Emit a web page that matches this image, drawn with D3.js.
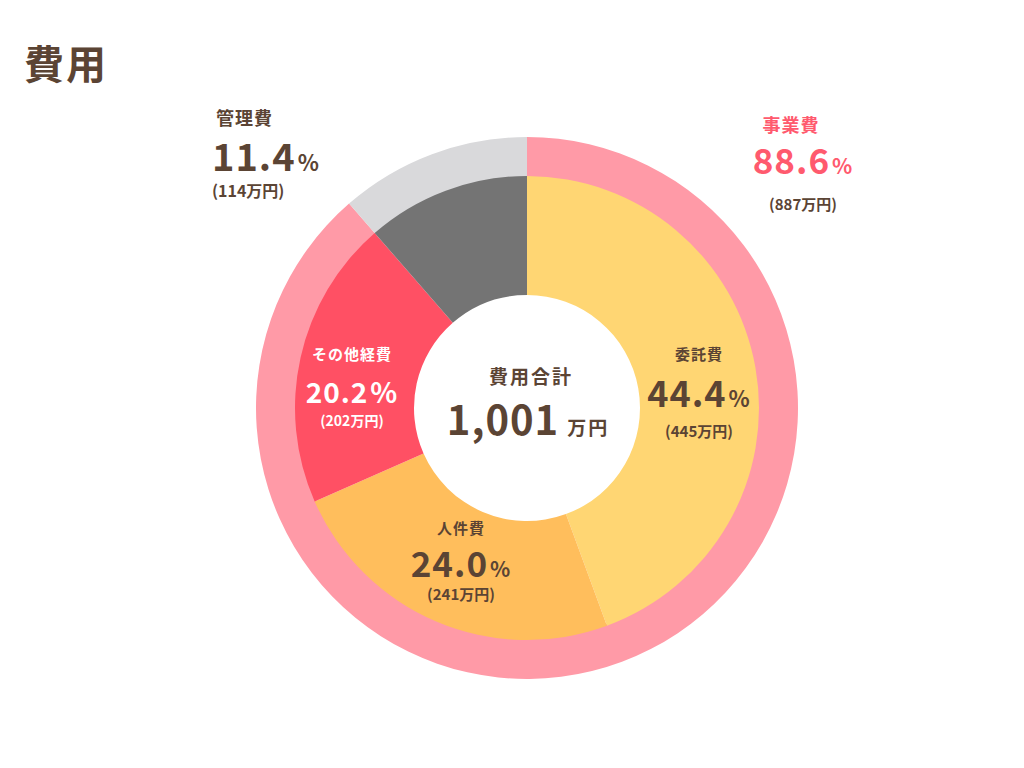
<!DOCTYPE html>
<html>
<head>
<meta charset="utf-8">
<script src="https://cdn.jsdelivr.net/npm/d3@7"></script>
<style>
  body { margin: 0; background: #fff; }
  text { font-family: "Noto Sans CJK JP", "Noto Sans", sans-serif; font-weight: 700; }
</style>
</head>
<body>
<div id="chart"></div>
<script>
// outer ring data
var outerNames = ["事業費", "管理費"];
var outerPct = [88.6, 11.4];
var outerAmt = [887, 114];
var outerColors = ["#ff9aa7", "#d9d9db"];

// inner ring data
var innerNames = ["委託費", "人件費", "その他経費", "管理費"];
var innerPct = [44.4, 24.0, 20.2, 11.4];
var innerAmt = [445, 241, 202, 114];
var innerColors = ["#ffd673", "#ffbe5c", "#ff5064", "#747474"];

var totalAmt = 1001;

var brown = "#5b4434";
var width = 1024, height = 768;
var cx = 527, cy = 408;

var svg = d3.select("#chart")
    .append("svg")
    .attr("width", width)
    .attr("height", height);

// title
svg.append("text")
    .attr("x", 24)
    .attr("y", 79)
    .attr("font-size", "40px")
    .attr("fill", brown)
    .attr("letter-spacing", "2px")
    .text("費用");

var g = svg.append("g")
    .attr("transform", "translate(" + cx + "," + cy + ")");

var pie = d3.pie().sort(null).value(function(d) { return d; });

var outerArc = d3.arc().innerRadius(230).outerRadius(271);
var innerArc = d3.arc().innerRadius(113).outerRadius(232);

g.selectAll(".outer")
    .data(pie(outerPct))
    .enter().append("path")
    .attr("class", "outer")
    .attr("d", outerArc)
    .attr("fill", function(d, i) { return outerColors[i]; });

g.selectAll(".inner")
    .data(pie(innerPct))
    .enter().append("path")
    .attr("class", "inner")
    .attr("d", innerArc)
    .attr("fill", function(d, i) { return innerColors[i]; });

// label helper: name, big percent, amount
function label(opt) {
    var anchor = opt.anchor || "middle";
    var grp = svg.append("g").attr("fill", opt.color);
    grp.append("text")
        .attr("x", opt.x + (opt.dx1 || 0)).attr("y", opt.y1)
        .attr("text-anchor", anchor)
        .attr("font-size", opt.s1 + "px")
        .attr("letter-spacing", "1px")
        .text(opt.name);
    var t = grp.append("text")
        .attr("x", opt.x).attr("y", opt.y2)
        .attr("text-anchor", anchor)
        .attr("font-size", opt.s2 + "px")
        .attr("letter-spacing", "1px");
    t.append("tspan").text(opt.pct.toFixed(1));
    t.append("tspan").attr("font-size", opt.s3 + "px").attr("dx", "2").text("%");
    grp.append("text")
        .attr("x", opt.x).attr("y", opt.y3)
        .attr("text-anchor", anchor)
        .attr("font-size", opt.s4 + "px")
        .attr("fill", opt.amtColor || opt.color)
        .text("(" + opt.amt + "万円)");
}

label({ name: outerNames[1], pct: outerPct[1], amt: outerAmt[1], color: brown, anchor: "start",
        x: 212, dx1: 4, y1: 125, y2: 171, y3: 197, s1: 18, s2: 38, s3: 22, s4: 16 });
label({ name: outerNames[0], pct: outerPct[0], amt: outerAmt[0], color: "#ff5a6e", amtColor: brown,
        x: 803, dx1: -12, y1: 132, y2: 174, y3: 210, s1: 18, s2: 35, s3: 21, s4: 15 });
label({ name: innerNames[0], pct: innerPct[0], amt: innerAmt[0], color: brown,
        x: 699, y1: 360, y2: 407, y3: 437, s1: 15, s2: 36, s3: 22, s4: 15 });
label({ name: innerNames[1], pct: innerPct[1], amt: innerAmt[1], color: brown,
        x: 461, y1: 534, y2: 577, y3: 600, s1: 15, s2: 35, s3: 21, s4: 15 });
label({ name: innerNames[2], pct: innerPct[2], amt: innerAmt[2], color: "#ffffff",
        x: 352, y1: 360, y2: 403, y3: 426, s1: 15, s2: 28, s3: 28, s4: 14 });

// center total
svg.append("text")
    .attr("x", 531).attr("y", 384)
    .attr("text-anchor", "middle")
    .attr("font-size", "19px")
    .attr("letter-spacing", "2px")
    .attr("fill", brown)
    .text("費用合計");

var tot = svg.append("text")
    .attr("x", 528).attr("y", 435)
    .attr("text-anchor", "middle")
    .attr("fill", brown);
tot.append("tspan").attr("font-size", "40px").attr("letter-spacing", "1px").text(d3.format(",")(totalAmt));
tot.append("tspan").attr("font-size", "19px").attr("dx", "8").attr("letter-spacing", "2px").text("万円");
</script>
</body>
</html>
